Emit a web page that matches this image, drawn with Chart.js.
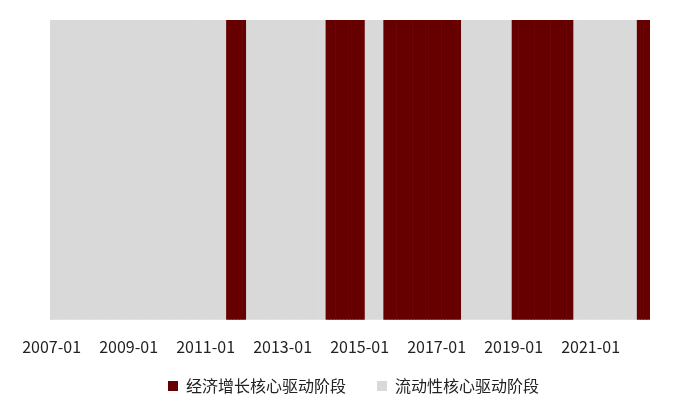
<!DOCTYPE html>
<html>
<head>
<meta charset="utf-8">
<script src="https://cdn.jsdelivr.net/npm/chart.js@4"></script>
<style>
  html, body { margin: 0; padding: 0; background: #fff; }
  .wrap { width: 700px; height: 416px; }
</style>
</head>
<body>
<div class="wrap"><canvas id="phaseChart"></canvas></div>
<script>
Chart.defaults.font.family = "'Noto Sans CJK SC', 'Noto Sans', sans-serif";
Chart.defaults.color = '#222';

// ---- data ----
const firstMonth = '2007-01';
const lastMonth = '2022-07';
// months where growth is the core driver; all others are liquidity-driven
const growthPhases = [
  ['2011-08', '2012-01'],
  ['2014-03', '2015-02'],
  ['2015-09', '2017-08'],
  ['2019-01', '2020-07'],
  ['2022-04', '2022-07'],
];
const tickMonths = ['2007-01', '2009-01', '2011-01', '2013-01', '2015-01', '2017-01', '2019-01', '2021-01'];
const seriesNames = ['经济增长核心驱动阶段', '流动性核心驱动阶段'];
const seriesColors = ['#660000', '#d9d9d9'];

// ---- build month categories ----
const months = [];
{
  let [y, m] = firstMonth.split('-').map(Number);
  while (true) {
    const key = y + '-' + String(m).padStart(2, '0');
    months.push(key);
    if (key === lastMonth) break;
    m++; if (m > 12) { m = 1; y++; }
  }
}
const inGrowth = k => growthPhases.some(([a, b]) => k >= a && k <= b);
const growthData = months.map(k => inGrowth(k) ? 1 : null);
const liquidityData = months.map(k => inGrowth(k) ? null : 1);

// invisible axis that only reserves space
const spacer = (pos, w) => ({
  position: pos, display: true, stacked: true, min: 0, max: 1,
  ticks: { display: false }, grid: { display: false }, border: { display: false },
  afterFit: a => { a.width = w; }
});

// legend: take less room and sit its row at a fixed height
const legendCenterY = 386;
const legendTrim = 10;
const legendNudge = {
  id: 'legendNudge',
  beforeInit(chart) {
    const lg = chart.legend;
    if (!lg) return;
    const fit = lg.fit;
    lg.fit = function () { fit.call(this); this.height -= legendTrim; };
  },
  afterLayout(chart) {
    const lg = chart.legend;
    if (!lg) return;
    const cur = lg.top + lg.options.labels.padding + lg.options.labels.font.size / 2;
    const dy = legendCenterY - cur;
    lg.top += dy; lg.bottom += dy;
  }
};

new Chart(document.getElementById('phaseChart'), {
  type: 'bar',
  data: {
    labels: months,
    datasets: [
      { label: seriesNames[0], data: growthData, backgroundColor: seriesColors[0], borderWidth: 0, barPercentage: 1, categoryPercentage: 1 },
      { label: seriesNames[1], data: liquidityData, backgroundColor: seriesColors[1], borderWidth: 0, barPercentage: 1, categoryPercentage: 1 }
    ]
  },
  options: {
    responsive: true,
    maintainAspectRatio: false,
    animation: false,
    layout: { padding: { top: 20, right: 0, left: 7, bottom: 2 } },
    scales: {
      x: {
        stacked: true,
        grid: { display: false },
        border: { display: false },
        ticks: {
          autoSkip: false,
          maxRotation: 0,
          padding: 10,
          color: '#222',
          font: { size: 16 },
          callback: function (v) {
            const k = this.getLabelForValue(v);
            return tickMonths.includes(k) ? k : '';
          }
        }
      },
      y: spacer('left', 43),
      y2: spacer('right', 50)
    },
    plugins: {
      tooltip: { enabled: false },
      legend: {
        position: 'bottom',
        labels: { boxWidth: 10, boxHeight: 10, padding: 31, color: '#222', font: { size: 16 } }
      }
    }
  },
  plugins: [legendNudge]
});
</script>
</body>
</html>
